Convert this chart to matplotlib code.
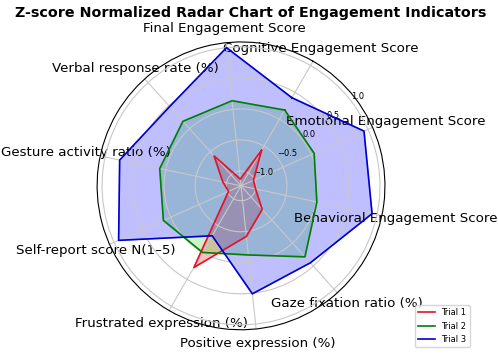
import numpy as np
import matplotlib
matplotlib.use("Agg")
import matplotlib.pyplot as plt

# categories in plotting order (clockwise, starting at 60 deg)
categories = [
    "Cognitive Engagement Score",
    "Emotional Engagement Score",
    "Behavioral Engagement Score",
    "Gaze fixation ratio (%)",
    "Positive expression (%)",
    "Frustrated expression (%)",
    "Self-report score N(1–5)",
    "Gesture activity ratio (%)",
    "Verbal response rate (%)",
    "Final Engagement Score",
]

trial_1 = [-0.58, -1.02, -1.00, -0.73, -0.42, 0.28, -1.02, -0.94, -0.59, -1.13]
trial_2 = [0.17, 0.05, 0.01, 0.30, -0.12, 0.00, 0.13, 0.10, 0.16, 0.14]
trial_3 = [0.40, 0.93, 0.92, 0.43, 0.51, -0.31, 0.92, 0.76, 0.48, 1.00]

series = [("Trial 1", trial_1, "#e8102a"),
          ("Trial 2", trial_2, "green"),
          ("Trial 3", trial_3, "mediumblue")]

N = len(categories)
angles = np.linspace(0, 2 * np.pi, N, endpoint=False).tolist()
angles += angles[:1]

fig = plt.figure(figsize=(4.98, 3.54), dpi=100)
ax = fig.add_axes([0.195, 0.068, 0.578, 0.814], polar=True)
ax.set_theta_offset(np.pi / 3)
ax.set_theta_direction(-1)

fills = {"Trial 1": "red", "Trial 2": "limegreen", "Trial 3": "blue"}
for name, vals, col in series:
    v = list(vals) + vals[:1]
    ax.plot(angles, v, color=col, linewidth=1.2, label=name)
    ax.fill(angles, v, color=fills[name], alpha=0.25)

ax.set_xticks(angles[:-1])
ax.set_xticklabels(categories, fontsize=9.6)
ax.tick_params(axis="x", pad=0)
ax.set_ylim(-1.24, 1.08)
ax.set_yticks([-1.0, -0.5, 0.0, 0.5, 1.0])
ax.tick_params(axis="y", labelsize=6)
ax.grid(color="#c8c8c8", linewidth=0.8)

fig.text(0.503, 0.963, "Z-score Normalized Radar Chart of Engagement Indicators",
         ha="center", va="center", fontsize=10.3, fontweight="bold")

ax.legend(loc="lower right", bbox_to_anchor=(0.952, 0.008),
          bbox_transform=fig.transFigure, fontsize=6)

fig.savefig("out.png", dpi=100)
